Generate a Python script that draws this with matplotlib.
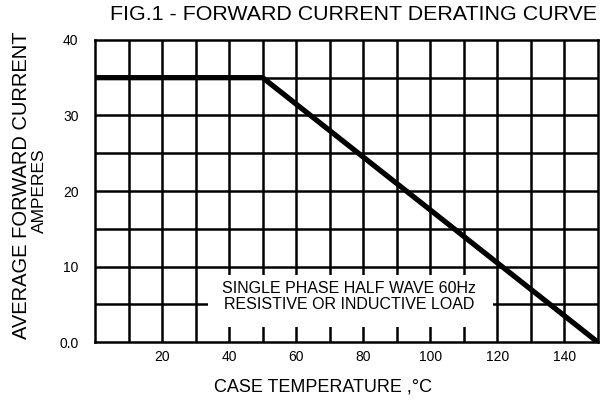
import matplotlib
matplotlib.use("Agg")
import matplotlib.pyplot as plt
from matplotlib.patches import Rectangle

plt.rcParams['font.family'] = ['Liberation Sans', 'DejaVu Sans']

# Data
temp_c = [0, 50, 150]
current_a = [35, 35, 0]
x_ticks = [20, 40, 60, 80, 100, 120, 140]
y_ticks = [0, 10, 20, 30, 40]
y_tick_labels = ["0.0", "10", "20", "30", "40"]
title = "FIG.1 - FORWARD CURRENT DERATING CURVE"
xlabel = "CASE TEMPERATURE ,\u00b0C"
ylabel1 = "AVERAGE FORWARD CURRENT"
ylabel2 = "AMPERES"
note = "SINGLE PHASE HALF WAVE 60Hz\nRESISTIVE OR INDUCTIVE LOAD"

fig = plt.figure(figsize=(6.02, 4.03), dpi=100)
ax = fig.add_axes([0.158, 0.151, 0.835, 0.750])
ax.set_xlim(0, 150)
ax.set_ylim(0, 40)

# grid
for gx in range(10, 150, 10):
    ax.axvline(gx, color='black', lw=1.8, zorder=1)
for gy in range(5, 40, 5):
    ax.axhline(gy, color='black', lw=1.8, zorder=1)

ax.plot(temp_c, current_a, color='black', lw=3.8, zorder=3, solid_capstyle='butt')

# white note box
ax.add_patch(Rectangle((33.7, 2.0), 85.0, 6.9, facecolor='white', edgecolor='none', zorder=2))
ax.text(75.7, 6.0, note, ha='center', va='center', fontsize=11.5, linespacing=1.1, zorder=4)

for s in ax.spines.values():
    s.set_linewidth(1.8)
    s.set_zorder(5)

ax.set_xticks(x_ticks)
ax.set_yticks(y_ticks)
ax.set_yticklabels(y_tick_labels)
ax.tick_params(length=0, labelsize=10)
ax.tick_params(axis='x', pad=6)
ax.tick_params(axis='y', pad=12)

fig.text(0.588, 0.965, title, ha='center', va='center', fontsize=15.4)
fig.text(0.537, 0.04, xlabel, ha='center', va='center', fontsize=13)
fig.text(0.035, 0.541, ylabel1, rotation=90, ha='center', va='center', fontsize=14.5)
fig.text(0.066, 0.528, ylabel2, rotation=90, ha='center', va='center', fontsize=12.5)

fig.savefig("out.png", dpi=100)
